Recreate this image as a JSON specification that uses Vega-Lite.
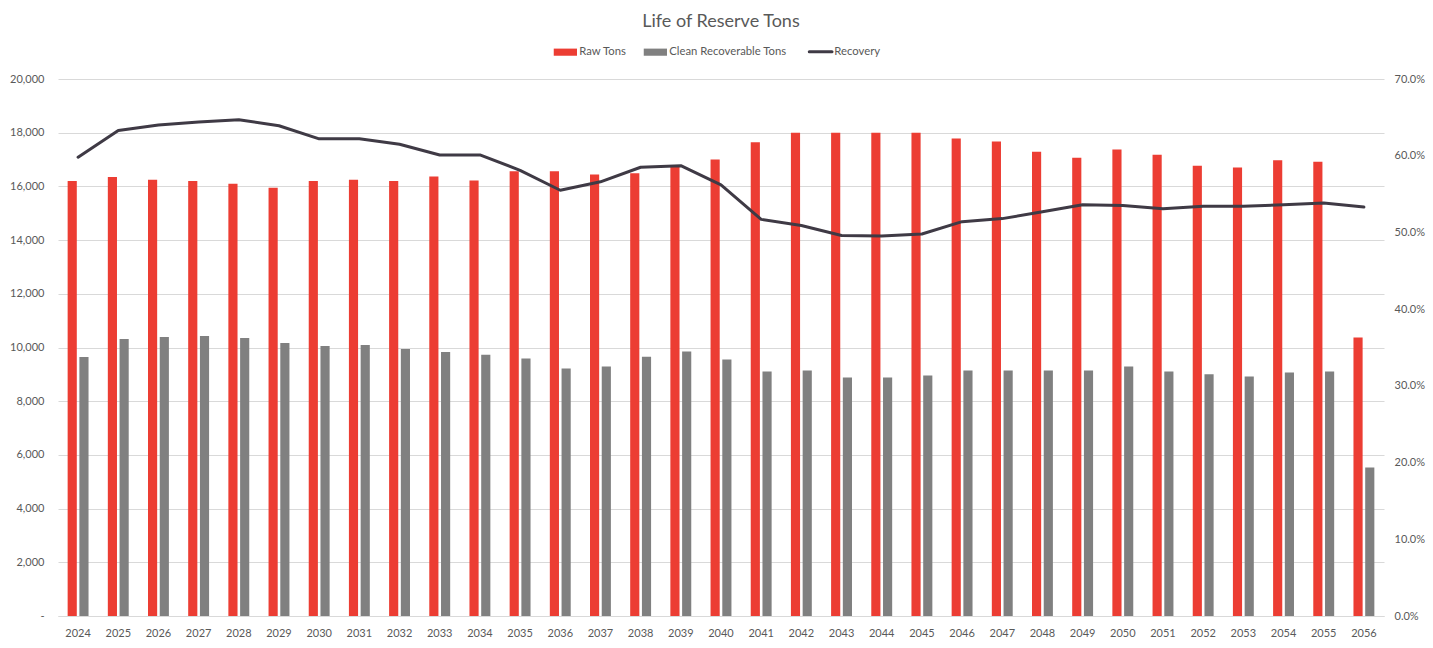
{
  "$schema": "https://vega.github.io/schema/vega-lite/v6.json",
  "width": 1326,
  "height": 537,
  "autosize": {"type": "none"},
  "padding": {"left": 58, "top": 79, "right": 49, "bottom": 32},
  "background": "white",
  "title": {
    "text": "Life of Reserve Tons",
    "font": "Lato",
    "fontSize": 18,
    "fontWeight": "normal",
    "color": "#595959",
    "anchor": "middle",
    "offset": 15
  },
  "data": {
    "values": [
      {"year": "2024", "raw": 16200, "clean": 9650, "recovery": 0.598},
      {"year": "2025", "raw": 16350, "clean": 10320, "recovery": 0.633},
      {"year": "2026", "raw": 16250, "clean": 10390, "recovery": 0.640},
      {"year": "2027", "raw": 16200, "clean": 10430, "recovery": 0.644},
      {"year": "2028", "raw": 16100, "clean": 10350, "recovery": 0.647},
      {"year": "2029", "raw": 15950, "clean": 10170, "recovery": 0.639},
      {"year": "2030", "raw": 16200, "clean": 10060, "recovery": 0.622},
      {"year": "2031", "raw": 16250, "clean": 10090, "recovery": 0.622},
      {"year": "2032", "raw": 16200, "clean": 9940, "recovery": 0.615},
      {"year": "2033", "raw": 16370, "clean": 9830, "recovery": 0.601},
      {"year": "2034", "raw": 16220, "clean": 9730, "recovery": 0.601},
      {"year": "2035", "raw": 16560, "clean": 9590, "recovery": 0.581},
      {"year": "2036", "raw": 16560, "clean": 9220, "recovery": 0.555},
      {"year": "2037", "raw": 16440, "clean": 9290, "recovery": 0.566},
      {"year": "2038", "raw": 16490, "clean": 9660, "recovery": 0.585},
      {"year": "2039", "raw": 16750, "clean": 9850, "recovery": 0.587},
      {"year": "2040", "raw": 17000, "clean": 9550, "recovery": 0.562},
      {"year": "2041", "raw": 17640, "clean": 9110, "recovery": 0.517},
      {"year": "2042", "raw": 18000, "clean": 9140, "recovery": 0.509},
      {"year": "2043", "raw": 18000, "clean": 8880, "recovery": 0.496},
      {"year": "2044", "raw": 18000, "clean": 8880, "recovery": 0.4955},
      {"year": "2045", "raw": 18000, "clean": 8960, "recovery": 0.498},
      {"year": "2046", "raw": 17780, "clean": 9140, "recovery": 0.514},
      {"year": "2047", "raw": 17670, "clean": 9140, "recovery": 0.518},
      {"year": "2048", "raw": 17290, "clean": 9140, "recovery": 0.527},
      {"year": "2049", "raw": 17070, "clean": 9140, "recovery": 0.536},
      {"year": "2050", "raw": 17370, "clean": 9290, "recovery": 0.535},
      {"year": "2051", "raw": 17180, "clean": 9110, "recovery": 0.531},
      {"year": "2052", "raw": 16770, "clean": 9000, "recovery": 0.534},
      {"year": "2053", "raw": 16700, "clean": 8920, "recovery": 0.534},
      {"year": "2054", "raw": 16970, "clean": 9070, "recovery": 0.536},
      {"year": "2055", "raw": 16920, "clean": 9110, "recovery": 0.5385},
      {"year": "2056", "raw": 10370, "clean": 5530, "recovery": 0.533}
    ]
  },
  "layer": [
    {
      "transform": [{"fold": ["raw", "clean"], "as": ["series", "tons"]}],
      "mark": {"type": "bar"},
      "encoding": {
        "x": {
          "field": "year",
          "type": "nominal",
          "scale": {"paddingInner": 0.48, "paddingOuter": 0.24},
          "axis": {
            "labelAngle": 0,
            "labelPadding": 11,
            "domain": true,
            "domainColor": "#D9D9D9",
            "ticks": false,
            "title": null
          }
        },
        "xOffset": {
          "field": "series",
          "type": "nominal",
          "sort": ["raw", "clean"],
          "scale": {"paddingInner": 0.22}
        },
        "y": {
          "field": "tons",
          "type": "quantitative",
          "scale": {"domain": [0, 20000]},
          "axis": {
            "values": [0, 2000, 4000, 6000, 8000, 10000, 12000, 14000, 16000, 18000, 20000],
            "labelExpr": "datum.value === 0 ? '-\u00a0\u00a0' : format(datum.value, ',')",
            "grid": true,
            "gridColor": "#D9D9D9",
            "labelPadding": 14,
            "title": null
          }
        },
        "color": {
          "field": "series",
          "type": "nominal",
          "scale": {
            "domain": ["raw", "clean", "recovery"],
            "range": ["#EC3D33", "#808080", "#3F3A45"]
          },
          "legend": {
            "orient": "none",
            "direction": "horizontal",
            "legendX": 506,
            "legendY": -33,
            "title": null,
            "padding": 0,
            "symbolSize": 700,
            "symbolOffset": -4,
            "labelOffset": 8,
            "columnPadding": 16,
            "labelFont": "Lato",
            "labelFontSize": 11.3,
            "labelColor": "#595959",
            "labelExpr": "datum.value === 'raw' ? 'Raw Tons' : datum.value === 'clean' ? 'Clean Recoverable Tons' : 'Recovery'",
            "encode": {
              "symbols": {
                "update": {
                  "shape": {"signal": "datum.value === 'recovery' ? 'M-0.86,0L0.86,0' : 'M-0.9,-0.27L0.86,-0.27L0.86,0.27L-0.9,0.27Z'"},
                  "fill": {"signal": "datum.value === 'recovery' ? 'transparent' : scale('color', datum.value)"},
                  "stroke": {"signal": "scale('color', datum.value)"},
                  "strokeWidth": {"signal": "datum.value === 'recovery' ? 3 : 0"},
                  "strokeCap": {"value": "round"},
                  "opacity": {"value": 1}
                }
              }
            }
          }
        }
      }
    },
    {
      "mark": {"type": "line", "strokeWidth": 3, "strokeCap": "round", "strokeJoin": "round"},
      "encoding": {
        "x": {"field": "year", "type": "nominal"},
        "y": {
          "field": "recovery",
          "type": "quantitative",
          "scale": {"domain": [0, 0.7]},
          "axis": {
            "orient": "right",
            "values": [0, 0.1, 0.2, 0.3, 0.4, 0.5, 0.6, 0.7],
            "format": ".1%",
            "grid": false,
            "labelPadding": 10,
            "title": null
          }
        },
        "color": {"datum": "recovery"}
      }
    }
  ],
  "resolve": {"scale": {"y": "independent"}},
  "config": {
    "view": {"stroke": null},
    "axis": {
      "labelFont": "Lato",
      "labelFontSize": 11,
      "labelColor": "#595959",
      "ticks": false,
      "domain": false
    }
  }
}
